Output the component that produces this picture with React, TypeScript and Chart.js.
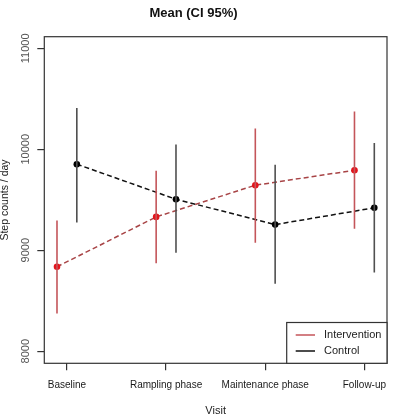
import React, { useEffect, useRef } from "react";
import { Chart, registerables } from "chart.js";

Chart.register(...registerables);

const visits = ["Baseline", "Rampling phase", "Maintenance phase", "Follow-up"];
const yTicks = [8000, 9000, 10000, 11000];

const interventionMean = [8836, 9330, 9644, 9792];
const interventionLow = [8373, 8871, 9073, 9212];
const interventionHigh = [9294, 9786, 10205, 10373];

const controlMean = [9852, 9505, 9254, 9420];
const controlLow = [9274, 8974, 8667, 8779];
const controlHigh = [10410, 10047, 9846, 10063];

const seriesNames = ["Intervention", "Control"];

const FONT = "'Liberation Sans', Arial, sans-serif";

const INT_BAR = "#c4555a";
const INT_LINE = "#a84446";
const INT_PT = "#e3141c";
const CTL_BAR = "#505050";
const CTL_LINE = "#111111";
const CTL_PT = "#000000";

function errorBars(low: number[], high: number[], offset: number) {
  const pts: { x: number; y: number | null }[] = [];
  low.forEach((l, i) => {
    const x = i + 1 + offset;
    pts.push({ x, y: l });
    pts.push({ x, y: high[i] });
    pts.push({ x, y: null });
  });
  return pts;
}

function meanPts(vals: number[], offset: number) {
  return vals.map((v, i) => ({ x: i + 1 + offset, y: v }));
}

const decorPlugin = {
  id: "decor",
  afterDraw(chart: any) {
    const { ctx, chartArea, scales } = chart;
    const ys = scales.y;
    ctx.save();
    // box
    ctx.strokeStyle = "#333333";
    ctx.lineWidth = 1.2;
    ctx.strokeRect(chartArea.left, chartArea.top, chartArea.right - chartArea.left, chartArea.bottom - chartArea.top);
    // y tick labels rotated
    ctx.fillStyle = "#555555";
    ctx.font = `11px ${FONT}`;
    ctx.textAlign = "center";
    ctx.textBaseline = "middle";
    yTicks.forEach((v) => {
      const py = ys.getPixelForValue(v);
      ctx.save();
      ctx.translate(25.5, py);
      ctx.rotate(-Math.PI / 2);
      ctx.fillText(String(v), 0, 0);
      ctx.restore();
    });
    // legend
    const lx = 286.7;
    const ly = 322.5;
    ctx.fillStyle = "#ffffff";
    ctx.fillRect(lx, ly, chartArea.right - lx, chartArea.bottom - ly);
    ctx.strokeStyle = "#333333";
    ctx.lineWidth = 1.2;
    ctx.strokeRect(lx, ly, chartArea.right - lx, chartArea.bottom - ly);
    const colors = [INT_BAR, CTL_LINE];
    seriesNames.forEach((name, i) => {
      const yy = 335 + i * 16;
      ctx.strokeStyle = colors[i];
      ctx.lineWidth = 1.5;
      ctx.beginPath();
      ctx.moveTo(295.7, yy);
      ctx.lineTo(315, yy);
      ctx.stroke();
      ctx.fillStyle = "#222222";
      ctx.font = `11px ${FONT}`;
      ctx.textAlign = "left";
      ctx.textBaseline = "middle";
      ctx.fillText(name, 324, yy);
    });
    ctx.restore();
  },
};

export default function App() {
  const ref = useRef<HTMLCanvasElement | null>(null);
  useEffect(() => {
    if (!ref.current) return;
    const chart = new Chart(ref.current, {
      type: "line",
      data: {
        datasets: [
          {
            label: "Intervention CI",
            data: errorBars(interventionLow, interventionHigh, -0.1),
            borderColor: INT_BAR,
            borderWidth: 1.6,
            pointRadius: 0,
            spanGaps: false,
            fill: false,
          },
          {
            label: "Control CI",
            data: errorBars(controlLow, controlHigh, 0.1),
            borderColor: CTL_BAR,
            borderWidth: 1.6,
            pointRadius: 0,
            spanGaps: false,
            fill: false,
          },
          {
            label: "Intervention",
            data: meanPts(interventionMean, -0.1),
            borderColor: INT_LINE,
            borderWidth: 1.5,
            borderDash: [5, 3],
            pointRadius: 3.3,
            pointBackgroundColor: INT_PT,
            pointBorderColor: INT_PT,
            pointBorderWidth: 0,
            fill: false,
          },
          {
            label: "Control",
            data: meanPts(controlMean, 0.1),
            borderColor: CTL_LINE,
            borderWidth: 1.5,
            borderDash: [5, 3],
            pointRadius: 3.3,
            pointBackgroundColor: CTL_PT,
            pointBorderColor: CTL_PT,
            pointBorderWidth: 0,
            fill: false,
          },
        ],
      },
      options: {
        animation: false,
        responsive: false,
        devicePixelRatio: 1,
        layout: { padding: { left: 0, right: 28, top: 0, bottom: 0 } },
        plugins: {
          legend: { display: false },
          tooltip: { enabled: false },
          title: {
            display: true,
            text: "Mean (CI 95%)",
            color: "#111111",
            font: { family: FONT, size: 13, weight: "bold" },
            padding: { top: 5.2, bottom: 15.9 },
          },
        },
        scales: {
          x: {
            type: "linear",
            min: 0.772,
            max: 4.228,
            afterBuildTicks: (s: any) => {
              s.ticks = visits.map((_, i) => ({ value: i + 1 }));
            },
            afterFit: (s: any) => {
              s.height = 54.7;
            },
            ticks: {
              autoSkip: false,
              maxRotation: 0,
              minRotation: 0,
              padding: 8.5,
              color: "#1a1a1a",
              font: { family: FONT, size: 10 },
              callback: (v: any) => visits[Math.round(Number(v)) - 1] ?? "",
            },
            grid: {
              drawOnChartArea: false,
              drawTicks: true,
              tickLength: 7,
              color: "#333333",
              lineWidth: 1.2,
            },
            border: { display: false },
            title: {
              display: true,
              text: "Visit",
              color: "#222222",
              font: { family: FONT, size: 11 },
              padding: { top: 0, bottom: 0 },
            },
          },
          y: {
            type: "linear",
            min: 7880,
            max: 11115,
            afterBuildTicks: (s: any) => {
              s.ticks = yTicks.map((v) => ({ value: v }));
            },
            afterFit: (s: any) => {
              s.width = 44.3;
            },
            ticks: { display: false },
            grid: {
              drawOnChartArea: false,
              drawTicks: true,
              tickLength: 7,
              color: "#333333",
              lineWidth: 1.2,
            },
            border: { display: false },
            title: {
              display: true,
              text: "Step counts / day",
              color: "#222222",
              font: { family: FONT, size: 10.5 },
              padding: { top: -1, bottom: 0 },
            },
          },
        },
      },
      plugins: [decorPlugin],
    });
    return () => chart.destroy();
  }, []);
  return (
    <div style={{ position: "absolute", left: 0, top: 0, width: 415, height: 418, background: "#ffffff" }}>
      <canvas ref={ref} width={415} height={418} style={{ display: "block" }} />
    </div>
  );
}
